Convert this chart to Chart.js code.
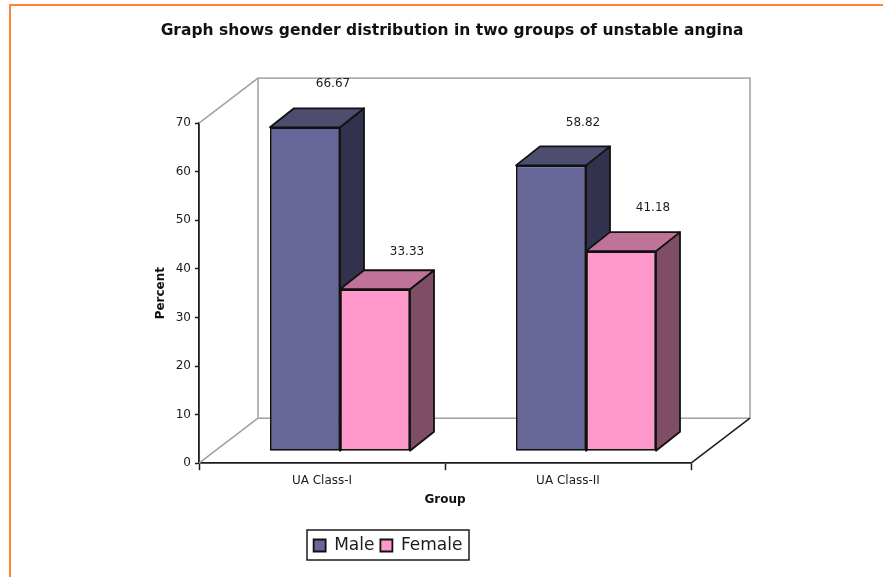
<!DOCTYPE html>
<html>
<head>
<meta charset="utf-8">
<script src="https://cdn.jsdelivr.net/npm/chart.js@4/dist/chart.umd.min.js"></script>
<style>
  html, body { margin: 0; padding: 0; background: #fff; overflow: hidden; }
  #wrap { position: relative; width: 883px; height: 577px; }
  #frame { position: absolute; left: 9px; top: 4px; right: 0; bottom: 0;
           border-left: 2px solid #ff8533; border-top: 2px solid #ff8533; }
  canvas { position: absolute; left: 0; top: 0; }
</style>
</head>
<body>
<div id="wrap">
  <div id="frame"></div>
  <canvas id="chart" width="883" height="577"></canvas>
</div>
<script>
const categories = ['UA Class-I', 'UA Class-II'];
const maleValues = [66.67, 58.82];
const femaleValues = [33.33, 41.18];
const yTicks = [0, 10, 20, 30, 40, 50, 60, 70];

const FONT = '"DejaVu Sans", sans-serif';
const INK = '#1c1c1c';
const WALL = '#a0a0a0';

// fake 3d: the room depth, how far the bars sit in it, and the bar's own depth
const ROOM = { x: 59, y: -45 };
const SHIFT = { x: 18, y: -12 };
const DEPTH = { x: 24, y: -19 };

// value labels sit off-centre over the bar, two of them further off
const LABEL_OFFSET = { x: 32, y: -43 };
const labelNudge = { '0-0': [-4, 0], '1-0': [0, 6] };

const LEGEND_BOX = { left: 307, right: 469, top: 530, bottom: 560 };

const shades = [
  { top: '#4d4d70', side: '#32324f' },
  { top: '#bf7399', side: '#804d66' }
];

function poly(ctx, pts, fill) {
  ctx.beginPath();
  pts.forEach((p, i) => i ? ctx.lineTo(p[0], p[1]) : ctx.moveTo(p[0], p[1]));
  ctx.closePath();
  if (fill) { ctx.fillStyle = fill; ctx.fill(); }
  ctx.stroke();
}

const box3d = {
  id: 'box3d',
  afterLayout(chart) {
    // title and legend are not centred on the canvas in the original
    const t = chart.titleBlock;
    t.left = 0; t.right = 904;
    // a little wider than the drawn box or the legend wraps its second item
    const l = chart.legend;
    l.left = LEGEND_BOX.left - 6; l.right = LEGEND_BOX.right + 6;
    l.top = LEGEND_BOX.top + 1; l.bottom = LEGEND_BOX.bottom;
  },
  beforeDatasetsDraw(chart) {
    const { ctx, chartArea: a } = chart;
    ctx.save();

    // back wall, side wall, floor
    ctx.strokeStyle = WALL;
    ctx.lineWidth = 1.5;
    ctx.strokeRect(a.left + ROOM.x, a.top + ROOM.y, a.right - a.left, a.bottom - a.top);
    ctx.beginPath();
    ctx.moveTo(a.left, a.top); ctx.lineTo(a.left + ROOM.x, a.top + ROOM.y);
    ctx.moveTo(a.left, a.bottom); ctx.lineTo(a.left + ROOM.x, a.bottom + ROOM.y);
    ctx.stroke();
    ctx.strokeStyle = INK;
    ctx.beginPath();
    ctx.moveTo(a.right, a.bottom); ctx.lineTo(a.right + ROOM.x, a.bottom + ROOM.y);
    ctx.stroke();

    // top and side faces, the library draws the fronts afterwards
    ctx.strokeStyle = '#111';
    ctx.lineWidth = 1.8;
    ctx.lineJoin = 'round';
    chart.data.datasets.forEach((ds, i) => {
      chart.getDatasetMeta(i).data.forEach(bar => {
        const l = bar.x - bar.width / 2 + SHIFT.x;
        const r = bar.x + bar.width / 2 + SHIFT.x;
        const t = bar.y + SHIFT.y;
        const b = bar.base + SHIFT.y;
        poly(ctx, [[r, t], [r + DEPTH.x, t + DEPTH.y], [r + DEPTH.x, b + DEPTH.y], [r, b]], shades[i].side);
        poly(ctx, [[l, t], [l + DEPTH.x, t + DEPTH.y], [r + DEPTH.x, t + DEPTH.y], [r, t]], shades[i].top);
      });
    });
    ctx.restore();

    ctx.save();
    ctx.translate(SHIFT.x, SHIFT.y);
  },
  afterDatasetsDraw(chart) {
    const { ctx } = chart;
    ctx.restore();

    ctx.save();
    ctx.font = '12px ' + FONT;
    ctx.fillStyle = INK;
    ctx.textAlign = 'center';
    ctx.textBaseline = 'middle';
    chart.data.datasets.forEach((ds, i) => {
      chart.getDatasetMeta(i).data.forEach((bar, j) => {
        const nudge = labelNudge[i + '-' + j] || [0, 0];
        ctx.fillText(ds.data[j].toFixed(2),
          bar.x + SHIFT.x + LABEL_OFFSET.x + nudge[0],
          bar.y + SHIFT.y + LABEL_OFFSET.y + nudge[1]);
      });
    });
    ctx.restore();
  },
  afterDraw(chart) {
    // box round the legend
    const { ctx } = chart;
    ctx.save();
    ctx.strokeStyle = INK;
    ctx.lineWidth = 1.5;
    ctx.strokeRect(LEGEND_BOX.left, LEGEND_BOX.top, LEGEND_BOX.right - LEGEND_BOX.left, LEGEND_BOX.bottom - LEGEND_BOX.top);
    ctx.restore();
  }
};

new Chart(document.getElementById('chart'), {
  type: 'bar',
  plugins: [box3d],
  data: {
    labels: categories,
    datasets: [
      { label: 'Male', data: maleValues, backgroundColor: '#666699', borderColor: '#111', borderWidth: 1.8, borderSkipped: false, categoryPercentage: 140 / 246, barPercentage: 1 },
      { label: 'Female', data: femaleValues, backgroundColor: '#ff99cc', borderColor: '#111', borderWidth: 1.8, borderSkipped: false, categoryPercentage: 140 / 246, barPercentage: 1 }
    ]
  },
  options: {
    responsive: false,
    animation: false,
    layout: { padding: { left: 150, right: 192, top: 22, bottom: 37 } },
    plugins: {
      title: {
        display: true,
        text: 'Graph shows gender distribution in two groups of unstable angina',
        font: { family: FONT, size: 15.5, weight: 'bold' },
        color: '#111',
        padding: { top: 0, bottom: 82.5 }
      },
      legend: {
        position: 'bottom',
        labels: {
          font: { family: FONT, size: 17 },
          color: INK,
          boxWidth: 12,
          boxHeight: 12,
          padding: 6
        }
      },
      tooltip: { enabled: false }
    },
    scales: {
      x: {
        border: { color: INK, width: 1.8 },
        grid: { drawOnChartArea: false, tickLength: 7, tickColor: INK, tickWidth: 1.5 },
        ticks: { font: { family: FONT, size: 12 }, color: INK, padding: 3 },
        title: { display: true, text: 'Group', font: { family: FONT, size: 12, weight: 'bold' }, color: '#111', padding: { top: 2, bottom: 0 } }
      },
      y: {
        min: 0,
        max: 70,
        afterFit(s) { s.width = 49; },
        afterBuildTicks(s) { s.ticks = yTicks.map(v => ({ value: v })); },
        border: { color: INK, width: 1.8 },
        grid: { drawOnChartArea: false, tickLength: 4, tickColor: INK, tickWidth: 1.5 },
        ticks: { font: { family: FONT, size: 12 }, color: INK, padding: 4 },
        title: { display: true, text: 'Percent', font: { family: FONT, size: 12, weight: 'bold' }, color: '#111', padding: { top: 4, bottom: 0 } }
      }
    }
  }
});
</script>
</body>
</html>
